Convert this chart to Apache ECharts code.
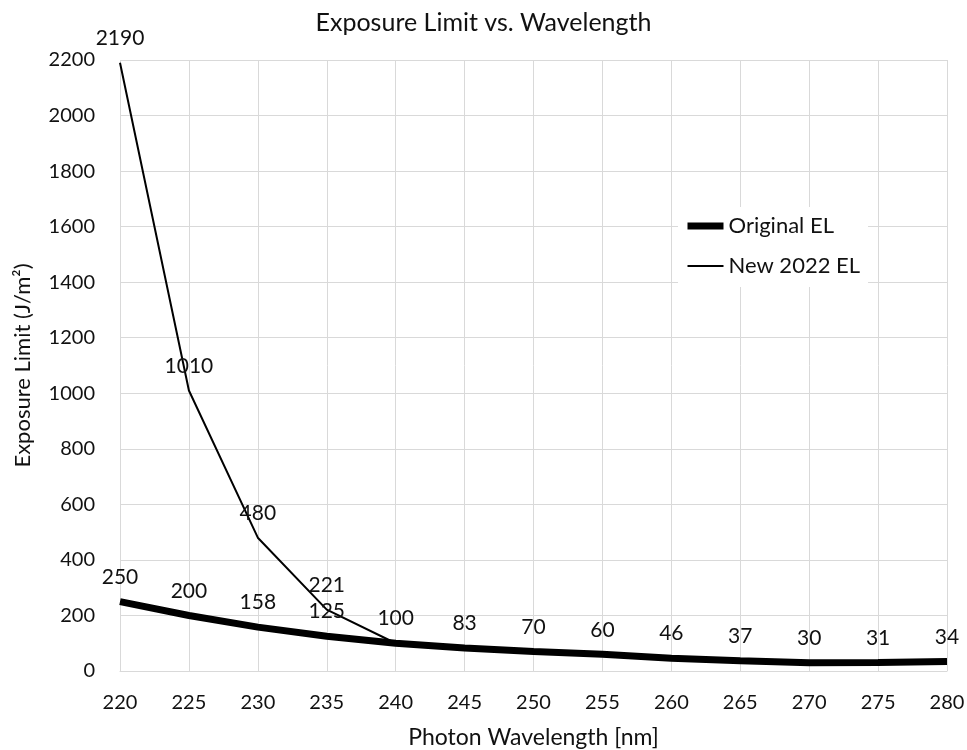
<!DOCTYPE html>
<html>
<head>
<meta charset="utf-8">
<script src="https://cdn.jsdelivr.net/npm/echarts@6/dist/echarts.min.js"></script>
<style>
  html, body { margin: 0; padding: 0; background: #fff; }
  #chart { width: 967px; height: 750px; }
</style>
</head>
<body>
<div id="chart"></div>
<script>
// wavelengths (nm)
const wavelengths = [220, 225, 230, 235, 240, 245, 250, 255, 260, 265, 270, 275, 280];
// Original EL (J/m2)
const originalEL = [250, 200, 158, 125, 100, 83, 70, 60, 46, 37, 30, 31, 34];
// New 2022 EL, only drawn 220-240
const newWavelengths = [220, 225, 230, 235, 240];
const newEL = [2190, 1010, 480, 221, 100];

const font = 'Lato, "Open Sans", sans-serif';

const myChart = echarts.init(document.getElementById('chart'));

// 数据标签
const labelStyle = {
  show: true,
  position: 'top',
  distance: 14,
  fontFamily: font,
  fontSize: 21,
  color: '#111',
  formatter: (p) => p.value[1],
};

const option = {
  backgroundColor: '#fff',
  textStyle: { fontFamily: font, color: '#000' },
  title: {
    text: 'Exposure Limit vs. Wavelength',
    left: 'center',
    top: 5,
    textStyle: { fontFamily: font, fontSize: 25, fontWeight: 'normal', color: '#111' },
  },
  legend: {
    orient: 'vertical',
    left: 678,
    top: 207,
    padding: [8, 8, 10, 6],
    itemGap: 18,
    itemWidth: 36,
    itemHeight: 14,
    backgroundColor: '#fff',
    itemStyle: { opacity: 0 },
    textStyle: { fontFamily: font, fontSize: 22, color: '#111' },
    data: [
      { name: 'Original EL', lineStyle: { width: 7, color: '#000' } },
      { name: 'New 2022 EL', lineStyle: { width: 2, color: '#000' } },
    ],
  },
  grid: {
    left: 120,
    right: 20,
    top: 60,
    bottom: 79,
    outerBoundsMode: 'none',
  },
  xAxis: {
    type: 'value',
    min: 220,
    max: 280,
    interval: 5,
    name: 'Photon Wavelength [nm]',
    nameLocation: 'middle',
    nameGap: 55,
    nameTextStyle: { fontFamily: font, fontSize: 23, color: '#111' },
    axisLine: { show: true, lineStyle: { color: '#d9d9d9', width: 1 } },
    axisTick: { show: false },
    axisLabel: { fontFamily: font, fontSize: 20, color: '#111', margin: 22 },
    splitLine: { show: true, lineStyle: { color: '#d9d9d9', width: 1 } },
  },
  yAxis: {
    type: 'value',
    min: 0,
    max: 2200,
    interval: 200,
    name: 'Exposure Limit (J/m²)',
    nameLocation: 'middle',
    nameGap: 86,
    nameTextStyle: { fontFamily: font, fontSize: 22, color: '#111' },
    axisLine: { show: false },
    axisTick: { show: false },
    axisLabel: {
      fontFamily: font, fontSize: 20, color: '#111', margin: 25,
      formatter: (v) => String(v),
    },
    splitLine: { show: true, lineStyle: { color: '#d9d9d9', width: 1 } },
  },
  series: [
    {
      name: 'Original EL',
      type: 'line',
      data: wavelengths.map((w, i) => [w, originalEL[i]]),
      symbol: 'circle',
      symbolSize: 0.1,
      lineStyle: { color: '#000', width: 7 },
      itemStyle: { color: '#000' },
      z: 3,
      label: labelStyle,
    },
    {
      name: 'New 2022 EL',
      type: 'line',
      data: newWavelengths.map((w, i) => ({
        value: [w, newEL[i]],
        label: { show: i < newWavelengths.length - 1 },
      })),
      symbol: 'circle',
      symbolSize: 0.1,
      lineStyle: { color: '#000', width: 2 },
      itemStyle: { color: '#000' },
      z: 2,
      label: labelStyle,
    },
  ],
};

myChart.setOption(option);
</script>
</body>
</html>
